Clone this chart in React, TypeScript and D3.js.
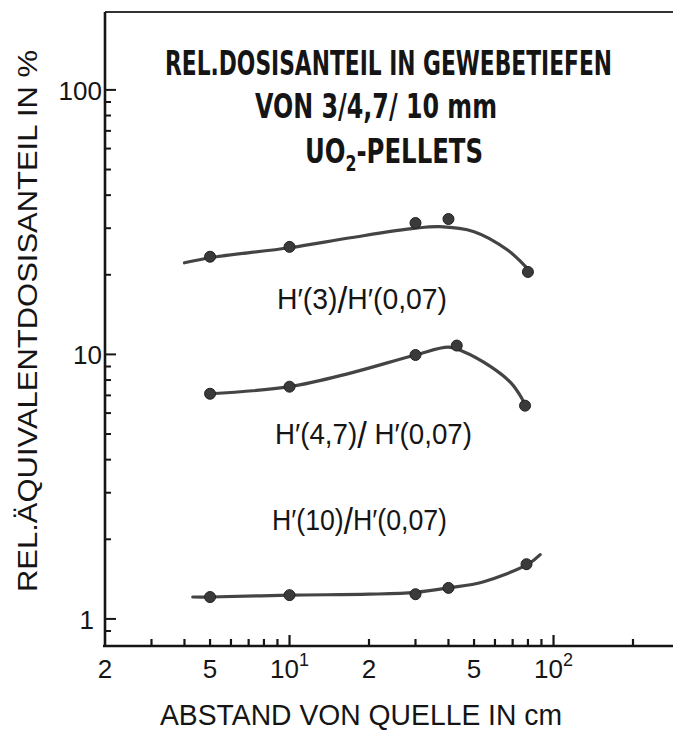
import React from "react";
import * as d3 from "d3";

// ---- data ----
const distH3 = [5, 10, 30, 40, 80];
const valH3 = [23.4, 25.5, 31.4, 32.5, 20.5];
const fitH3X = [4, 5, 10, 17, 30, 37, 50, 67, 79];
const fitH3Y = [22.2, 23.2, 25.3, 27.6, 30.0, 30.4, 29.1, 24.8, 21.3];

const distH47 = [5, 10, 30, 43, 78];
const valH47 = [7.1, 7.55, 9.95, 10.8, 6.4];
const fitH47X = [5, 10, 17, 30, 40, 45, 58, 69, 76, 78];
const fitH47Y = [7.1, 7.55, 8.5, 9.95, 10.65, 10.3, 8.97, 7.8, 6.8, 6.45];

const distH10 = [5, 10, 30, 40, 79];
const valH10 = [1.21, 1.23, 1.24, 1.31, 1.61];
const fitH10X = [4.3, 5, 10, 20, 30, 40, 54, 80, 89];
const fitH10Y = [1.21, 1.21, 1.23, 1.24, 1.26, 1.31, 1.38, 1.61, 1.75];

const xMajorTicks = [10, 100];
const xMinorTicks = [3, 4, 5, 6, 7, 8, 9, 20, 30, 40, 50, 60, 70, 80, 90, 200];
const yMajorTicks = [1, 10, 100];
const yMinorTicks = [0.9, 2, 3, 4, 5, 6, 7, 8, 9, 20, 30, 40, 50, 60, 70, 80, 90];

const xTickValues = [2, 5, 10, 20, 50, 100];
const xTickBase = ["2", "5", "10", "2", "5", "10"];
const xTickSup = ["", "", "1", "", "", "2"];
const yTickValues = [1, 10, 100];
const yTickText = ["1", "10", "100"];

const titleLines = ["REL.DOSISANTEIL IN GEWEBETIEFEN", "VON 3/4,7/ 10 mm"];
const xTitle = "ABSTAND VON QUELLE IN cm";
const yTitle = "REL.ÄQUIVALENTDOSISANTEIL IN %";
const seriesNum = ["3", "4,7", "10"];

const W = 673;
const H = 731;

export default function App() {
  const x = d3.scaleLog().domain([2, 300]).range([105, 105 + 264 * Math.log10(150)]);
  const y = d3.scaleLog().domain([0.79, 197]).range([646, 12]);

  const line = d3
    .line<[number, number]>()
    .x((d) => x(d[0]))
    .y((d) => y(d[1]))
    .curve(d3.curveCatmullRom.alpha(0.5));

  const fits = [
    d3.zip(fitH3X, fitH3Y) as [number, number][],
    d3.zip(fitH47X, fitH47Y) as [number, number][],
    d3.zip(fitH10X, fitH10Y) as [number, number][],
  ];
  const pts = [
    d3.zip(distH3, valH3) as [number, number][],
    d3.zip(distH47, valH47) as [number, number][],
    d3.zip(distH10, valH10) as [number, number][],
  ];

  const axisX0 = x(2);
  const axisY0 = y(0.79);
  const ink = "#151515";
  const curveCol = "#444";
  const txtFont = "'Liberation Sans', Arial, sans-serif";
  const titleFont = "'DejaVu Sans Condensed', 'Liberation Sans Narrow', 'DejaVu Sans', sans-serif";

  const labelPos = [
    { x: 277, y: 309, w: 170 },
    { x: 275, y: 444, w: 197 },
    { x: 272, y: 530, w: 175 },
  ];

  return (
    <svg
      width={W}
      height={H}
      style={{ position: "absolute", left: 0, top: 0, background: "#fff" }}
    >
      <rect x={0} y={0} width={W} height={H} fill="#fff" />
      {/* frame */}
      <line x1={axisX0} x2={W} y1={y(197)} y2={y(197)} stroke="#333" strokeWidth={2} />
      <line x1={axisX0} x2={axisX0} y1={y(197)} y2={axisY0} stroke={ink} strokeWidth={2.6} />
      <line x1={axisX0 - 2} x2={W} y1={axisY0} y2={axisY0} stroke={ink} strokeWidth={2.6} />

      {/* y ticks */}
      {yMajorTicks.map((t) => (
        <line key={"ym" + t} x1={axisX0} x2={axisX0 + 11} y1={y(t)} y2={y(t)} stroke={ink} strokeWidth={2} />
      ))}
      {yMinorTicks.map((t) => (
        <line key={"yn" + t} x1={axisX0} x2={axisX0 + 6} y1={y(t)} y2={y(t)} stroke={ink} strokeWidth={2} />
      ))}
      {/* x ticks */}
      {xMajorTicks.map((t) => (
        <line key={"xm" + t} x1={x(t)} x2={x(t)} y1={axisY0} y2={axisY0 - 11} stroke={ink} strokeWidth={2.2} />
      ))}
      {xMinorTicks.map((t) => (
        <line key={"xn" + t} x1={x(t)} x2={x(t)} y1={axisY0} y2={axisY0 - 7} stroke={ink} strokeWidth={2.2} />
      ))}

      {/* y tick labels */}
      {yTickValues.map((v, i) => (
        <text
          key={"yl" + v}
          x={v === 1 ? 94 : 102}
          y={y(v) + 10}
          textAnchor="end"
          fontFamily={txtFont}
          fontSize={26}
          fill={ink}
        >
          {yTickText[i]}
        </text>
      ))}

      {/* x tick labels */}
      {xTickValues.map((v, i) => (
        <text
          key={"xl" + i}
          x={x(v)}
          y={678}
          textAnchor="middle"
          fontFamily={txtFont}
          fontSize={26}
          fill={ink}
        >
          {xTickBase[i]}
          {xTickSup[i] ? (
            <tspan fontSize={18} dy={-12}>
              {xTickSup[i]}
            </tspan>
          ) : null}
        </text>
      ))}

      {/* axis titles */}
      <text
        x={160}
        y={725}
        fontFamily={txtFont}
        fontSize={29}
        fill={ink}
        textLength={402}
        lengthAdjust="spacingAndGlyphs"
      >
        {xTitle}
      </text>
      <text
        transform={`translate(37, 592) rotate(-90)`}
        x={0}
        y={0}
        fontFamily={txtFont}
        fontSize={28}
        fill={ink}
        textLength={542}
        lengthAdjust="spacingAndGlyphs"
      >
        {yTitle}
      </text>

      {/* title */}
      <text
        x={165}
        y={75}
        fontFamily={titleFont}
        fontWeight="bold"
        fontSize={34}
        fill={ink}
        textLength={447}
        lengthAdjust="spacingAndGlyphs"
      >
        {titleLines[0]}
      </text>
      <text
        x={255}
        y={118}
        fontFamily={titleFont}
        fontWeight="bold"
        fontSize={34}
        fill={ink}
        textLength={242}
        lengthAdjust="spacingAndGlyphs"
      >
        {titleLines[1]}
      </text>
      <text
        x={305}
        y={163}
        fontFamily={titleFont}
        fontWeight="bold"
        fontSize={34}
        fill={ink}
        textLength={178}
        lengthAdjust="spacingAndGlyphs"
      >
        UO
        <tspan fontSize={22} dy={8}>
          2
        </tspan>
        <tspan dy={-8}>-PELLETS</tspan>
      </text>

      {/* curves */}
      {fits.map((f, i) => (
        <path key={"c" + i} d={line(f) || ""} fill="none" stroke={curveCol} strokeWidth={3.2} strokeLinecap="round" />
      ))}
      {pts.map((s, i) =>
        s.map((p, j) => (
          <circle key={"p" + i + "-" + j} cx={x(p[0])} cy={y(p[1])} r={5.5} fill="#3a3a3a" stroke="#222" strokeWidth={1} />
        ))
      )}

      {/* curve labels */}
      {labelPos.map((l, i) => (
        <text
          key={"lab" + i}
          x={l.x}
          y={l.y}
          fontFamily={txtFont}
          fontSize={29}
          fill={ink}
          textLength={l.w}
          lengthAdjust="spacingAndGlyphs"
        >
          {`H′(${seriesNum[i]})`}
          <tspan fontSize={36} dy={4}>/</tspan>
          <tspan dy={-4}>{i === 1 ? " H′(0,07)" : "H′(0,07)"}</tspan>
        </text>
      ))}
    </svg>
  );
}
